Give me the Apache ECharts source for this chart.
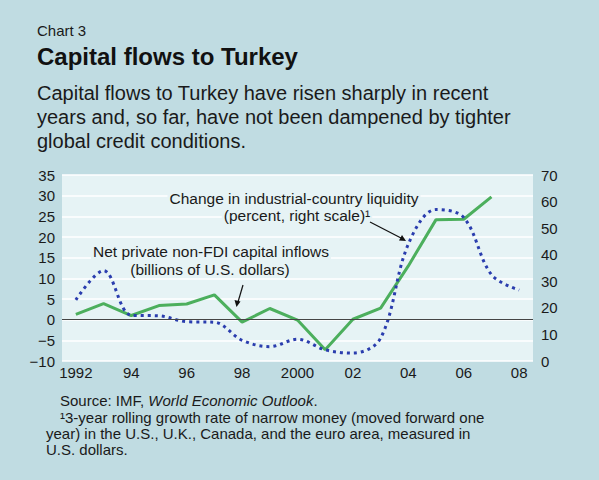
<!DOCTYPE html>
<html>
<head>
<meta charset="utf-8">
<script src="https://cdn.jsdelivr.net/npm/echarts@6/dist/echarts.min.js"></script>
<style>
  html, body { margin: 0; padding: 0; background: #c0dce2; }
  #chart { width: 599px; height: 480px; }
</style>
</head>
<body>
<div id="chart"></div>
<script>
// data
var years = ['1992','1993','1994','1995','1996','1997','1998','1999','2000','2001','2002','2003','2004','2005','2006','2007','2008'];
var xLabels = ['1992','','94','','96','','98','','2000','','02','','04','','06','','08'];
var inflows = [1.3, 3.9, 1.0, 3.4, 3.8, 6.0, -0.6, 2.7, -0.1, -7.3, 0.1, 2.8, 13.0, 24.2, 24.3, 29.7, null]; // 十亿美元, 左轴
var liquidity = [23, 34, 17.2, 17, 14.8, 14.6, 7.8, 5.4, 8.2, 4.2, 3.0, 8.6, 44, 57, 54, 32.5, 26.7]; // 百分比, 右轴

var font = '"Liberation Sans", Arial, sans-serif';
var txt = '#1a1a1a';
var plotBg = '#e6f3f5';

var chart = echarts.init(document.getElementById('chart'), null, {renderer: 'svg'});

function minus(v) {
  return String(v).replace('-', '\u2212');
}

// 注释文字, 背景遮住网格线
function note(text, x, y) {
  return {type: 'text', x: x, y: y, z: 8, style: {
    text: text, font: '15.5px ' + font, fill: txt,
    align: 'center', verticalAlign: 'middle',
    backgroundColor: plotBg, padding: [0, 2]
  }};
}

var option = {
  backgroundColor: '#c0dce2',
  animation: false,
  grid: {
    left: 62, right: 66, top: 175, bottom: 119,
    show: true,
    backgroundColor: plotBg,
    borderWidth: 0
  },
  xAxis: {
    type: 'category',
    data: years,
    boundaryGap: true,
    axisLine: {show: false},
    axisTick: {show: false},
    splitLine: {show: false},
    axisLabel: {
      interval: 0,
      margin: 4,
      color: txt,
      fontSize: 15,
      fontFamily: font,
      formatter: function (v, i) { return xLabels[i]; }
    }
  },
  yAxis: [
    {
      type: 'value',
      min: -10, max: 35, interval: 5,
      axisLine: {show: false},
      axisTick: {show: false},
      splitLine: {lineStyle: {color: '#ffffff', width: 1.5}},
      axisLabel: {margin: 7, color: txt, fontSize: 15, fontFamily: font, formatter: minus}
    },
    {
      type: 'value',
      min: 0, max: 70, interval: 10,
      position: 'right',
      axisLine: {show: false},
      axisTick: {show: false},
      splitLine: {show: false},
      axisLabel: {margin: 8, color: txt, fontSize: 15, fontFamily: font}
    }
  ],
  series: [
    {
      name: 'Net private non-FDI capital inflows',
      type: 'line',
      yAxisIndex: 0,
      data: inflows,
      symbol: 'none',
      lineStyle: {color: '#4caf5d', width: 3},
      z: 3,
      markLine: {
        silent: true,
        symbol: 'none',
        label: {show: false},
        lineStyle: {color: '#444', width: 1, type: 'solid'},
        data: [{yAxis: 0}]
      }
    },
    {
      name: 'Change in industrial-country liquidity',
      type: 'line',
      yAxisIndex: 1,
      data: liquidity,
      symbol: 'none',
      smooth: 0.35,
      lineStyle: {color: '#2a3dae', width: 3, type: [3, 4], cap: 'butt'},
      z: 4
    }
  ],
  graphic: [
    {type: 'text', left: 37, top: 23, style: {text: 'Chart 3', font: '15px ' + font, fill: txt}},
    {type: 'text', left: 37, top: 44, style: {text: 'Capital flows to Turkey', font: 'bold 24px ' + font, fill: '#111'}},
    {type: 'text', left: 37, top: 83, style: {text: 'Capital flows to Turkey have risen sharply in recent', font: '20px ' + font, fill: txt}},
    {type: 'text', left: 37, top: 107, style: {text: 'years and, so far, have not been dampened by tighter', font: '20px ' + font, fill: txt}},
    {type: 'text', left: 37, top: 131, style: {text: 'global credit conditions.', font: '20px ' + font, fill: txt}},

    note('Change in industrial-country liquidity', 294, 198),
    note('(percent, right scale)\u00b9', 297, 215),
    note('Net private non-FDI capital inflows', 211, 251),
    note('(billions of U.S. dollars)', 210, 269),

    // 箭头
    {type: 'line', shape: {x1: 243, y1: 285, x2: 238, y2: 302}, style: {stroke: '#111', lineWidth: 1.2}, z: 10},
    {type: 'polygon', shape: {points: [[236.5, 307], [234.5, 300], [240.5, 301.5]]}, style: {fill: '#111'}, z: 10},
    {type: 'line', shape: {x1: 370, y1: 222, x2: 401, y2: 238}, style: {stroke: '#111', lineWidth: 1.2}, z: 10},
    {type: 'polygon', shape: {points: [[406, 241], [399, 240.5], [402, 235]]}, style: {fill: '#111'}, z: 10},

    // 资料来源
    {type: 'text', left: 60, top: 393, style: {
      text: 'Source: IMF, {i|World Economic Outlook}.',
      font: '15px ' + font, fill: txt,
      rich: {i: {fontStyle: 'italic', fontSize: 15, fontFamily: font, fill: txt}}
    }},
    {type: 'text', left: 60, top: 410, style: {text: '\u00b93-year rolling growth rate of narrow money (moved forward one', font: '15px ' + font, fill: txt}},
    {type: 'text', left: 46, top: 426, style: {text: 'year) in the U.S., U.K., Canada, and the euro area, measured in', font: '15px ' + font, fill: txt}},
    {type: 'text', left: 46, top: 442, style: {text: 'U.S. dollars.', font: '15px ' + font, fill: txt}}
  ]
};

chart.setOption(option);
</script>
</body>
</html>
